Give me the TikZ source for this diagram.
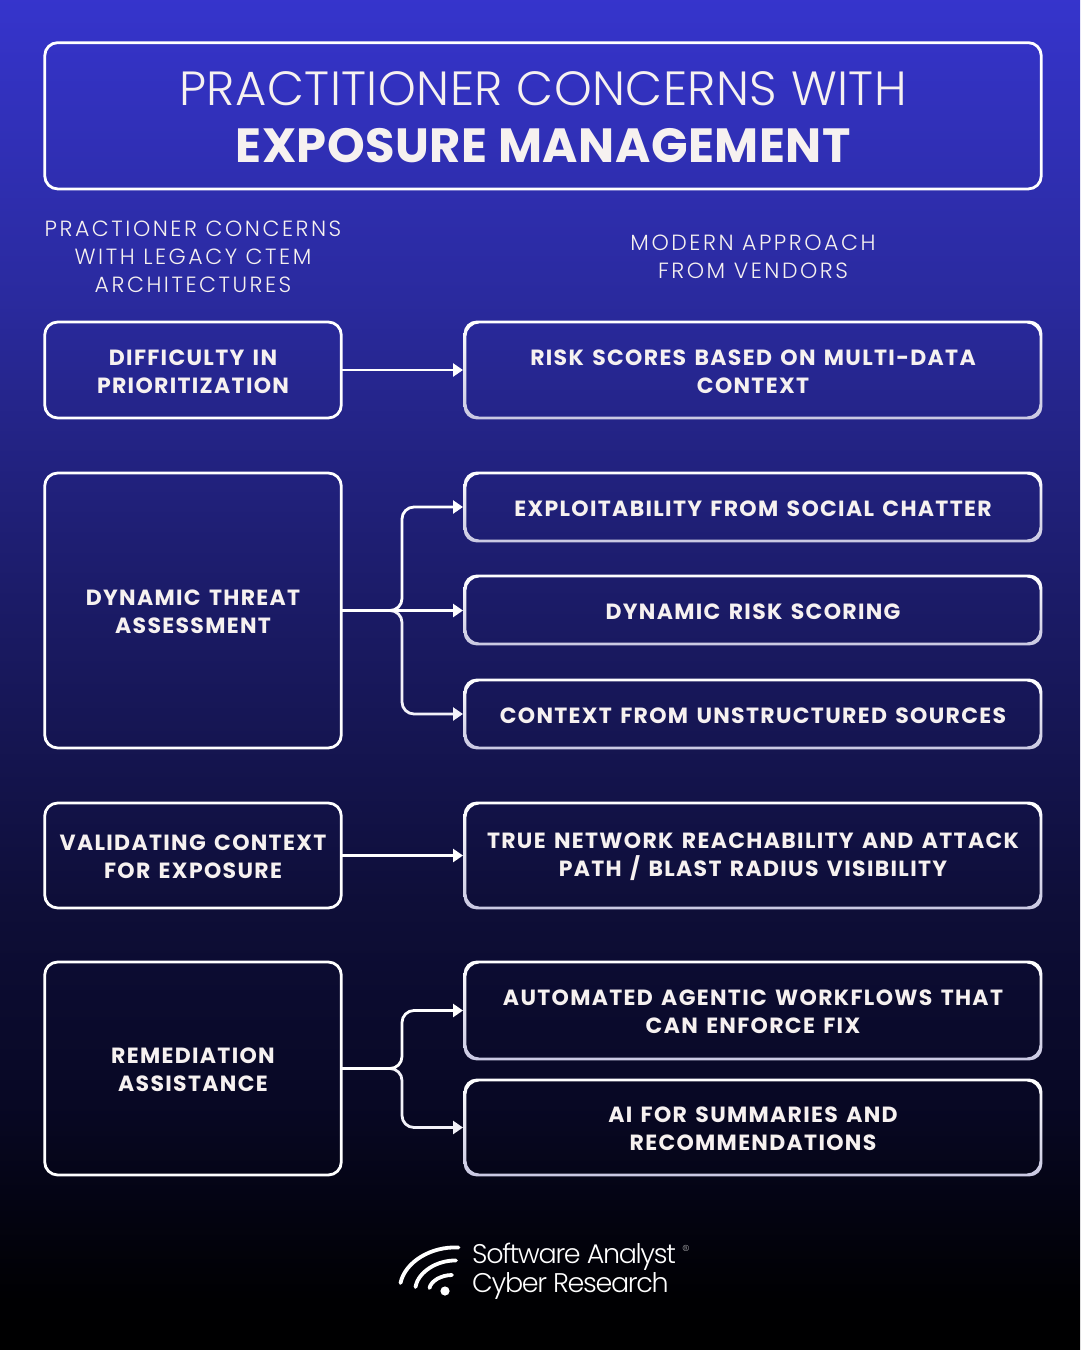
\documentclass[tikz,border=0pt]{standalone}
\usepackage{fontspec}
\usetikzlibrary{arrows.meta,calc}
\newfontfamily\boldf[LetterSpace=6,WordSpace=1.4]{Poppins Bold}
\newfontfamily\titleb[LetterSpace=1]{Poppins Bold}
\newfontfamily\lightf[LetterSpace=11.5]{Poppins Light}
\newfontfamily\titlel[LetterSpace=1]{Poppins Light}
\newfontfamily\logof[LetterSpace=-5]{Poppins Light}
\definecolor{txt}{HTML}{F6F1F0}
\definecolor{lav}{HTML}{C9C8E2}
\pgfdeclareverticalshading{bgshade}{100bp}{rgb(0bp)=(0,0,0); rgb(25bp)=(0,0,0); rgb(27bp)=(0,0,0.01); rgb(34bp)=(0.03,0.03,0.14); rgb(41.5bp)=(0.055,0.055,0.22); rgb(52.5bp)=(0.105,0.105,0.40); rgb(64bp)=(0.165,0.165,0.62); rgb(75bp)=(0.21,0.205,0.80); rgb(100bp)=(0.21,0.205,0.80)}
\newcommand{\gradring}[1]{%
 \shade[top color=white,middle color=white!85!lav,bottom color=lav,even odd rule,rounded corners=13pt]
  ($(#1.south west)+(-1.4,1.4)$) rectangle ($(#1.north east)+(1.4,-1.4)$)
  ($(#1.south west)+(1.4,-1.4)$) rectangle ($(#1.north east)+(-1.4,1.4)$);}
\newcommand{\dn}{\rule{0pt}{19pt}}
\tikzset{x=1pt,y=-1pt,
 base/.style={align=center,text=txt,inner sep=0pt,outer sep=0pt,rounded corners=13pt,line width=2.8pt},
 lbox/.style={base,draw=white,minimum width=296.6pt,font=\boldf\fontsize{22}{28}\selectfont},
 rbox/.style={base,minimum width=576pt,font=\boldf\fontsize{22}{28}\selectfont},
 head/.style={align=center,text=txt,inner sep=0pt,font=\lightf\fontsize{22}{28}\selectfont},
 conn/.style={draw=white,line width=2.8pt,rounded corners=12pt,shorten >=2pt,-{Triangle[length=10pt,width=13pt]}},
 connb/.style={conn,draw=white!75!lav},
 logot/.style={text=white,inner sep=0pt,anchor=base west,font=\logof\fontsize{27}{30}\selectfont}}
\begin{document}
\begin{tikzpicture}
\useasboundingbox (0,0) rectangle (1080,1350);
\shade[shading=bgshade] (0,0) rectangle (1080,1350);
% title
\node[base,draw=white,minimum width=996.5pt,minimum height=146.3pt,font=\fontsize{48}{57}\selectfont] (title) at (543,115.8)
 {\rule{0pt}{36pt}{\titlel PRACTITIONER CONCERNS WITH}\\{\titleb EXPOSURE MANAGEMENT}};
\node[head] (hl) at (193,256.5) {PRACTIONER CONCERNS\\WITH LEGACY CTEM\\ARCHITECTURES};
\node[head] (hr) at (753,256.5) {MODERN APPROACH\\FROM VENDORS};
% left boxes
\node[lbox,minimum height=96pt] (l1) at (193,370) {\dn DIFFICULTY IN\\PRIORITIZATION};
\node[lbox,minimum height=275pt] (l2) at (193,610.5) {\dn DYNAMIC THREAT\\ASSESSMENT};
\node[lbox,minimum height=105pt] (l3) at (193,855.5) {\dn VALIDATING CONTEXT\\FOR EXPOSURE};
\node[lbox,minimum height=213pt] (l4) at (193,1068.5) {\dn REMEDIATION\\ASSISTANCE};
% right boxes
\node[rbox,minimum height=96pt] (r1) at (753,370) {\dn RISK SCORES BASED ON MULTI-DATA\\CONTEXT};
\node[rbox,minimum height=68pt] (r2) at (753,507) {\dn EXPLOITABILITY FROM SOCIAL CHATTER};
\node[rbox,minimum height=68pt] (r3) at (753,610) {\dn DYNAMIC RISK SCORING};
\node[rbox,minimum height=68pt] (r4) at (753,714) {\dn CONTEXT FROM UNSTRUCTURED SOURCES};
\node[rbox,minimum height=105pt] (r5) at (753,855.5) {\dn TRUE NETWORK REACHABILITY AND ATTACK\\PATH / BLAST RADIUS VISIBILITY};
\node[rbox,minimum height=97pt] (r6) at (753,1010.5) {\dn AUTOMATED AGENTIC WORKFLOWS THAT\\CAN ENFORCE FIX};
\node[rbox,minimum height=95pt] (r7) at (753,1127.5) {\dn AI FOR SUMMARIES AND\\RECOMMENDATIONS};
\gradring{r1}\gradring{r2}\gradring{r3}\gradring{r4}\gradring{r5}\gradring{r6}\gradring{r7}
% connectors
\coordinate (b2) at (402,610.5);
\coordinate (b4) at (402,1068.5);
\draw[connb] (l2.east) -- (b2) |- (r4.west);
\draw[conn] (l2.east) -- (b2) |- (r2.west);
\draw[conn] (l2.east) -- (b2) -- (b2 -| r3.west);
\draw[conn] (l1.east) -- (r1.west);
\draw[conn] (l3.east) -- (r5.west);
\draw[connb] (l4.east) -- (b4) |- (r7.west);
\draw[conn] (l4.east) -- (b4) |- (r6.west);
% logo
\node[logot] (lg1) at (472,1263) {Software Analyst};
\node[logot] (lg2) at (472,1292) {Cyber Research};
\node[text=white!85!black,inner sep=0pt,font=\fontsize{9}{9}\selectfont] (lg3) at (686,1248) {®};
\fill[white] (445,1291) circle (4.6);
\draw[white,line width=3.8pt,line cap=round] (429.5,1288) .. controls (431,1281) and (441,1275) .. (452,1275);
\draw[white,line width=3.8pt,line cap=round] (415.5,1287) .. controls (418,1272) and (437,1260) .. (456,1260.5);
\draw[white,line width=3.8pt,line cap=round] (400.5,1283) .. controls (405,1262) and (431,1246) .. (458.5,1247.5);
\end{tikzpicture}
\end{document}
